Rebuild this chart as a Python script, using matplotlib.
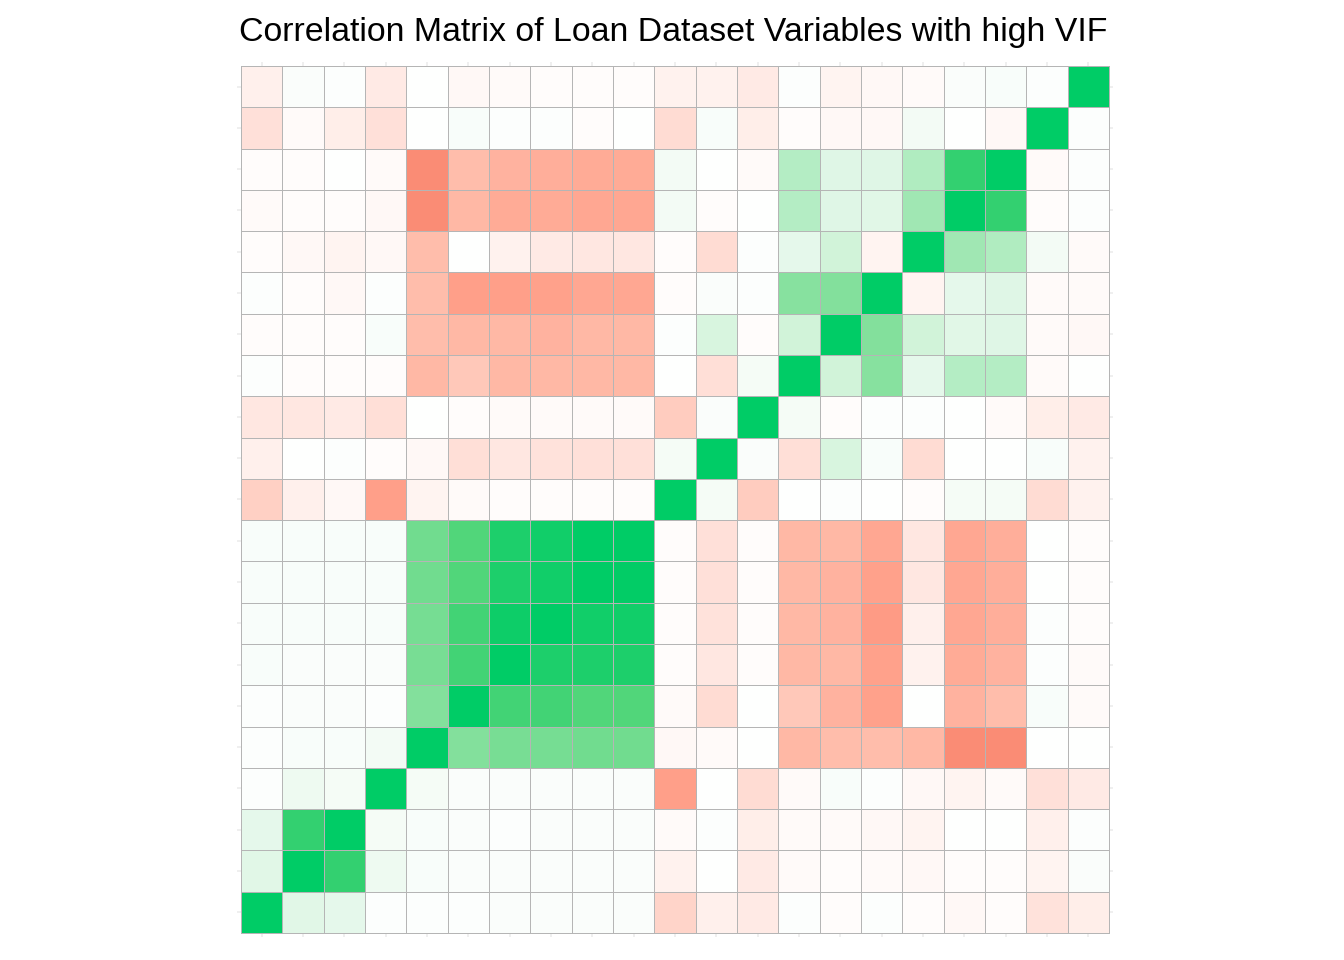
import numpy as np
import matplotlib
matplotlib.use('Agg')
import matplotlib.pyplot as plt
from matplotlib.colors import LinearSegmentedColormap

# correlation values, rows listed top to bottom
row_00 = [-.06, .02, .01, -.08, 0, -.03, -.02, -.01, -.01, -.01, -.05, -.05, -.08, .01, -.04, -.03, -.02, .02, .03, .01, 1]
row_01 = [-.13, -.02, -.07, -.13, 0, .03, .01, .01, -.01, 0, -.15, .03, -.07, -.01, -.03, -.03, .05, 0, -.03, 1, .01]
row_02 = [-.01, -.01, 0, -.02, -.56, -.35, -.4, -.42, -.43, -.43, .05, 0, -.02, .3, .12, .12, .32, .85, 1, -.02, .01]
row_03 = [-.02, -.01, -.01, -.03, -.56, -.38, -.43, -.43, -.45, -.45, .05, -.01, 0, .3, .12, .11, .38, 1, .85, -.01, .01]
row_04 = [-.01, -.03, -.04, -.03, -.35, 0, -.05, -.08, -.1, -.1, -.01, -.15, .01, .1, .18, -.04, 1, .38, .32, .05, -.02]
row_05 = [.01, -.01, -.03, .01, -.35, -.48, -.48, -.47, -.45, -.45, -.01, .02, .01, .47, .5, 1, -.04, .1, .12, -.02, -.02]
row_06 = [-.01, -.01, -.01, .03, -.35, -.38, -.38, -.4, -.38, -.38, .01, .15, -.01, .18, 1, .5, .18, .11, .12, -.02, -.03]
row_07 = [.01, -.01, -.01, -.01, -.38, -.28, -.38, -.38, -.38, -.38, 0, -.14, .04, 1, .18, .47, .1, .3, .3, -.02, 0]
row_08 = [-.1, -.1, -.08, -.14, 0, -.01, -.02, -.02, -.02, -.02, -.25, .02, 1, .04, -.01, .01, .01, 0, -.02, -.07, -.08]
row_09 = [-.06, 0, .01, -.01, -.03, -.14, -.1, -.12, -.13, -.13, .04, 1, .02, -.14, .15, .03, -.15, 0, 0, .03, -.05]
row_10 = [-.22, -.06, -.03, -.48, -.04, -.02, -.01, -.01, -.01, -.01, 1, .04, -.25, 0, .01, 0, -.01, .04, .04, -.15, -.05]
row_11 = [.03, .03, .03, .03, .62, .75, .9, .93, 1, 1, -.01, -.13, -.01, -.38, -.38, -.45, -.1, -.45, -.42, 0, -.01]
row_12 = [.03, .03, .03, .03, .62, .75, .9, .93, 1, .99, -.01, -.13, -.01, -.38, -.4, -.47, -.1, -.45, -.42, 0, -.01]
row_13 = [.03, .03, .03, .03, .6, .8, .95, 1, .93, .93, -.01, -.12, -.01, -.38, -.4, -.5, -.06, -.45, -.42, .01, -.01]
row_14 = [.03, .02, .02, .02, .58, .8, 1, .9, .9, .9, -.01, -.1, -.01, -.38, -.38, -.47, -.05, -.43, -.4, .01, -.02]
row_15 = [.01, .02, .02, .01, .5, 1, .8, .8, .75, .75, -.02, -.15, 0, -.28, -.4, -.47, 0, -.4, -.35, .03, -.02]
row_16 = [.01, .03, .03, .05, 1, .5, .58, .6, .62, .62, -.03, -.02, 0, -.38, -.35, -.35, -.38, -.56, -.56, 0, 0]
row_17 = [.01, .07, .04, 1, .04, .02, .02, .02, .02, .02, -.48, 0, -.15, -.02, .03, .01, -.03, -.04, -.02, -.13, -.08]
row_18 = [.1, .85, 1, .04, .03, .02, .01, .02, .02, .02, -.02, .01, -.07, -.02, -.02, -.03, -.04, 0, 0, -.06, .01]
row_19 = [.11, 1, .85, .07, .03, .02, .02, .02, .02, .02, -.05, 0, -.08, -.02, -.01, -.02, -.03, -.01, -.01, -.04, .02]
row_20 = [1, .11, .1, .01, .01, .01, .02, .02, .02, .02, -.2, -.06, -.08, .01, -.01, .01, -.01, -.03, -.01, -.12, -.07]

title = "Correlation Matrix of Loan Dataset Variables with high VIF"

corr = np.array([row_00, row_01, row_02, row_03, row_04, row_05, row_06,
                 row_07, row_08, row_09, row_10, row_11, row_12, row_13,
                 row_14, row_15, row_16, row_17, row_18, row_19, row_20])
n = corr.shape[0]

# red - white - green scale, stops picked to look like the ggplot gradient
stops = [
    (-1.0, (240, 105, 85)),
    (-0.55, (250, 141, 118)),
    (-0.48, (255, 160, 138)),
    (-0.38, (255, 184, 165)),
    (-0.25, (255, 204, 190)),
    (-0.14, (255, 222, 214)),
    (-0.07, (255, 237, 232)),
    (0.0, (255, 255, 255)),
    (0.05, (243, 251, 245)),
    (0.11, (226, 247, 232)),
    (0.18, (210, 243, 218)),
    (0.3, (181, 237, 196)),
    (0.38, (160, 231, 179)),
    (0.47, (136, 225, 159)),
    (0.6, (118, 221, 147)),
    (0.75, (83, 214, 123)),
    (0.85, (51, 208, 112)),
    (0.93, (19, 206, 105)),
    (1.0, (0, 204, 102)),
]
cmap = LinearSegmentedColormap.from_list(
    'redgreen', [((v + 1) / 2, tuple(c / 255 for c in rgb)) for v, rgb in stops])

fig = plt.figure(figsize=(13.44, 9.6), dpi=100)
ax = fig.add_axes([0.1763, 0.0239, 0.6519, 0.9117])

edges = np.arange(n + 1) - 0.5
ax.pcolormesh(edges, edges, corr, cmap=cmap, vmin=-1, vmax=1,
              edgecolors='#B5B5B5', linewidth=0.5, zorder=2)

ax.set_xlim(-0.6, n - 0.4)
ax.set_ylim(n - 0.4, -0.6)
ax.set_xticks(np.arange(n))
ax.set_yticks(np.arange(n))
ax.set_xticklabels([])
ax.set_yticklabels([])
ax.tick_params(length=0)
ax.grid(True, color='#EBEBEB', linewidth=1.1, zorder=0)
ax.set_axisbelow(True)
for s in ax.spines.values():
    s.set_visible(False)

fig.text(673 / 1344, 1 - 41 / 960, title, ha='center', va='baseline',
         fontsize=24.4, family='Liberation Sans', color='black')

fig.savefig('out.png', dpi=100, facecolor='white')
